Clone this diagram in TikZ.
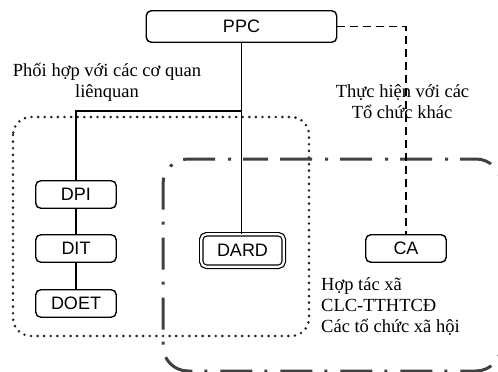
\documentclass[tikz,border=0pt]{standalone}
\usepackage{fontspec}
\setmainfont{Liberation Serif}
\newfontfamily\boxfont{Liberation Sans}
\begin{document}
\begin{tikzpicture}[x=1pt,y=-1pt,
  unit/.style={draw, line width=1.4pt, rounded corners=5pt, fill=white,
    font=\boxfont\fontsize{18}{20}\selectfont, inner sep=0pt,
    minimum width=80.5pt, minimum height=27.5pt},
  topunit/.style={unit, minimum width=190.5pt, minimum height=31.5pt},
  mainunit/.style={unit, double, line width=1.2pt, double distance=2.2pt,
    minimum width=82.4pt, minimum height=32.4pt},
  link/.style={line width=1.4pt},
  dashlink/.style={line width=1.5pt, dash pattern=on 8pt off 5pt},
  dotframe/.style={draw=black!85, line width=2.9pt, line cap=round,
    dash pattern=on 0pt off 6.6pt, rounded corners=18pt},
  dashdotframe/.style={draw=black!75, line width=3pt,
    dash pattern=on 3pt off 12pt on 32pt off 13pt, rounded corners=25pt},
  note/.style={font=\rmfamily\fontsize{18.5}{21}\selectfont, inner sep=0pt, anchor=base},
  leftnote/.style={note, anchor=base west}]
\useasboundingbox (0,0) rectangle (498,372);
\clip (0,0) rectangle (498,372);

% group frames
\draw[dotframe] (13,117) rectangle (309,336);
\draw[dashdotframe] (240,159) -- (501,159) -- (501,371) -- (163,371) -- (163,159) -- cycle;

% units
\node[topunit] (ppc) at (241.5,26.5) {PPC};
\node[unit] (dpi) at (76,194.5) {DPI};
\node[unit] (dit) at (76,248.5) {DIT};
\node[unit] (doet) at (76,303.5) {DOET};
\node[mainunit] (dard) at (242.5,250.5) {DARD};
\node[unit] (ca) at (406,248.5) {CA};

% connectors
\coordinate (fork) at (ppc.south |- 0,111);
\draw[link] (ppc.south) -- (ppc.south |- dard.north);
\draw[link] (fork) -| (dpi.north);
\draw[link] (dpi) -- (dit);
\draw[link] (dit) -- (doet);
\draw[dashlink] (ppc.east) -| (ca.north);

% labels
\node[note] (coop1) at (107,76) {Phối hợp với các cơ quan};
\node[note] (coop2) at (107,97) {liênquan};
\node[note] (other1) at (402.5,97) {Thực hiện với các};
\node[note] (other2) at (402,118) {Tổ chức khác};
\node[leftnote] (ca1) at (321,290) {Hợp tác xã};
\node[leftnote] (ca2) at (321,311) {CLC-TTHTCĐ};
\node[leftnote] (ca3) at (321,332) {Các tổ chức xã hội};
\end{tikzpicture}
\end{document}
